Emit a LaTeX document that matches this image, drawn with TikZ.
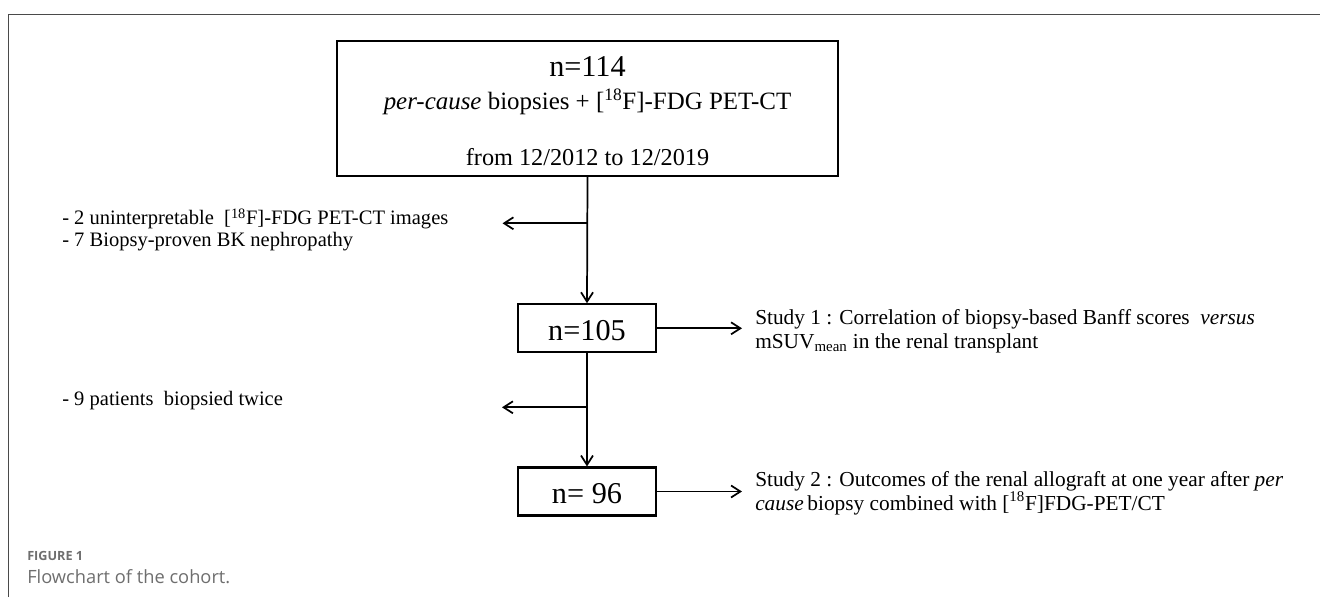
\documentclass[tikz,border=0pt]{standalone}
\usepackage{fontspec}
\setmainfont{Liberation Serif}
\newfontfamily\capfont{Open Sans}
\usepackage{xcolor}
\usetikzlibrary{arrows.meta,positioning,calc}

\definecolor{framegray}{HTML}{4A4A4A}
\definecolor{capgray}{HTML}{6E6E6E}

\tikzset{
  countbox/.style={draw, line width=1.6pt, inner sep=0pt},
  countnum/.style={anchor=base, inner sep=0pt, font=\fontsize{22.7}{26}\selectfont},
  flow/.style={line width=1.3pt, -{Straight Barb[length=7pt,width=9pt,line width=1.3pt]}},
  note/.style={anchor=base west, align=left, inner sep=0pt, font=\fontsize{15.4}{16.3}\selectfont},
  study/.style={anchor=base west, align=left, inner sep=0pt, font=\fontsize{16}{17.5}\selectfont},
}

\begin{document}
\begin{tikzpicture}[x=0.75pt,y=-0.75pt]
\useasboundingbox (0,0) rectangle (1320,597);

% ======================================================================
% FRAME : top rule + left rule of the figure panel
% ======================================================================
\draw[framegray, line width=0.8pt] (8.5,597) -- (8.5,14.5) -- (1320,14.5);

% ======================================================================
% BOXES : cohort counts
% ======================================================================
\node[countbox, minimum width=375.75pt, minimum height=101.25pt] (n114) at (587.5,108.2) {};
\node[countnum] (n114num) at (587.5,76.7) {n=114};
\node[anchor=base, inner sep=0pt, font=\fontsize{18.7}{20}\selectfont] (n114sub) at (587.5,109)
  {\textit{per-cause} biopsies + [\textsuperscript{18}F]-FDG PET-CT};
\node[anchor=base, inner sep=0pt, font=\fontsize{18.2}{20}\selectfont] (n114date) at (587.5,165)
  {from 12/2012 to 12/2019};

\node[countbox, minimum width=103.5pt, minimum height=36pt] (n105) at (587,328.3) {};
\node[countnum] (n105num) at (587,340) {n=105};

\node[countbox, minimum width=103.5pt, minimum height=36pt] (n96) at (587,491.5) {};
\node[countnum] (n96num) at (587,503.3) {n= 96};

% branch points on the main line + free ends of the side arrows
\coordinate (br1) at (587,223.3);
\coordinate (br2) at (587,407.3);
\coordinate (ex1) at (502.5,223.3);
\coordinate (ex2) at (502,407.3);
\coordinate (st1) at (742,328.3);
\coordinate (st2) at (742,491.5);

% ======================================================================
% CONNECTORS
% ======================================================================
\draw[flow] (n114.south) -- (n105.north);
\draw[flow] (n105.south) -- (n96.north);
\draw[flow] (br1) -- (ex1);
\draw[flow] (br2) -- (ex2);
\draw[flow] (n105.east) -- (st1);
\draw[flow] (n96.east) -- (st2);

% ======================================================================
% EXCLUSIONS (left) and STUDIES (right) -- base = last line
% ======================================================================
\node[note] (excl1) at (62,246.7)
  {- 2 uninterpretable\ \ [\textsuperscript{18}F]-FDG PET-CT images\\
   - 7 Biopsy-proven BK nephropathy};
\node[note] (excl2) at (62,405) {- 9 patients\ \ biopsied twice};

\node[study] (study1) at (755,348.3)
  {Study 1 : Correlation of biopsy-based Banff scores\ \ \textit{versus}\\
   mSUV\textsubscript{mean} in the renal transplant};
\node[study] (study2) at (755,510)
  {Study 2 : Outcomes of the renal allograft at one year after \textit{per}\\
   \textit{cause}\,biopsy combined with [\textsuperscript{18}F]FDG-PET/CT};

% ======================================================================
% CAPTION
% ======================================================================
\node[anchor=base west, inner sep=0pt, text=capgray, font=\capfont\bfseries\fontsize{9.5}{11}\selectfont]
  (figno) at (27,560) {FIGURE 1};
\node[anchor=base west, inner sep=0pt, text=capgray, font=\capfont\fontsize{13.7}{16}\selectfont]
  (figcap) at (27,583) {Flowchart of the cohort.};

\end{tikzpicture}
\end{document}
